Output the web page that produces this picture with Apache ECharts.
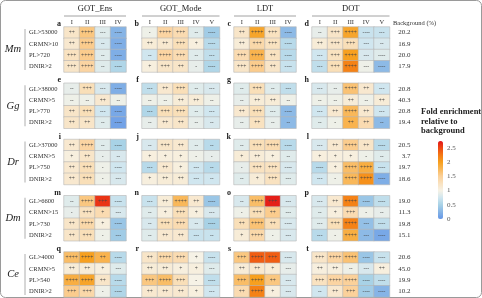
<!DOCTYPE html>
<html>
<head>
<meta charset="utf-8">
<script src="https://cdn.jsdelivr.net/npm/echarts@6/dist/echarts.min.js"></script>
<style>
  html, body { margin: 0; padding: 0; background: #fff; }
  #chart { width: 482px; height: 298px; }
</style>
</head>
<body>
<div id="chart"></div>
<script>
// species blocks, top to bottom
const species = ['Mm', 'Gg', 'Dr', 'Dm', 'Ce'];
const rowLabels = [
  ['GL>53000', 'CRMN>10', 'PL>720', 'DNIR>2'],
  ['GL>38000', 'CRMN>5', 'PL>770', 'DNIR>2'],
  ['GL>37000', 'CRMN>5', 'PL>750', 'DNIR>2'],
  ['GL>6600', 'CRMN>15', 'PL>730', 'DNIR>2'],
  ['GL>4000', 'CRMN>5', 'PL>540', 'DNIR>2']
];
const background = [
  ['20.2', '16.9', '20.0', '17.9'],
  ['20.8', '40.3', '20.8', '19.4'],
  ['20.5', '3.7', '19.7', '18.6'],
  ['19.0', '11.3', '19.8', '15.1'],
  ['20.6', '45.0', '19.9', '10.2']
];
const methods = ['GOT_Ens', 'GOT_Mode', 'LDT', 'DOT'];
const methodCols = [
  ['I', 'II', 'III', 'IV'],
  ['I', 'II', 'III', 'IV', 'V'],
  ['I', 'II', 'III', 'IV'],
  ['I', 'II', 'III', 'IV', 'V']
];
const panelLetters = ['abcd', 'efgh', 'ijkl', 'mnop', 'qrst'];

// fold enrichment, 20 rows (5 species x 4 rows)
const gotEnsFold = [
  [1.2, 1.6, 0.85, 0.25], [1.15, 1.55, 0.8, 0.2], [1.25, 1.55, 0.85, 0.2], [1.2, 1.45, 0.85, 0.55],
  [0.9, 1.3, 0.8, 0.2], [0.95, 0.95, 1.15, 0.95], [1.2, 1.3, 0.75, 0.15], [1.2, 1.2, 0.85, 0.1],
  [1.15, 1.45, 0.85, 0.5], [1.05, 1.2, 0.9, 0.8], [1.15, 1.3, 0.95, 0.75], [1.15, 1.3, 0.95, 0.8],
  [0.85, 1.6, 2.6, 0.7], [0.9, 1.25, 1.35, 0.8], [1.2, 1.4, 1.05, 0.4], [1.2, 1.3, 0.95, 0.45],
  [1.7, 2.0, 1.8, 0.6], [1.1, 1.1, 1.05, 0.85], [1.85, 1.95, 1.2, 0.6], [1.55, 1.4, 0.95, 0.55]
];
const gotModeFold = [
  [0.95, 1.45, 1.35, 0.85, 0.45], [1.1, 1.15, 1.3, 1.05, 0.6], [0.75, 1.45, 1.35, 0.85, 0.65], [1.05, 1.2, 1.2, 0.9, 0.55],
  [0.65, 1.15, 1.3, 0.85, 0.8], [0.95, 0.95, 1.1, 1.1, 0.95], [0.55, 1.3, 1.3, 0.85, 0.75], [0.9, 1.15, 1.2, 0.9, 0.8],
  [0.8, 1.2, 1.15, 0.85, 0.6], [1.05, 1.05, 1.05, 0.95, 0.9], [0.6, 1.15, 1.05, 0.75, 0.6], [1.05, 1.1, 1.1, 0.75, 0.75],
  [0.7, 1.1, 1.75, 1.15, 0.4], [0.85, 1.05, 1.3, 1.05, 0.8], [0.8, 1.3, 1.35, 0.8, 0.5], [0.85, 1.15, 1.15, 0.7, 0.7],
  [1.2, 1.4, 1.35, 1.0, 0.7], [1.1, 1.1, 1.05, 1.05, 0.85], [1.6, 1.7, 1.3, 1.0, 0.65], [1.15, 1.15, 1.15, 1.05, 0.75]
];
const ldtFold = [
  [1.2, 1.95, 1.25, 0.3], [1.1, 1.4, 1.25, 0.6], [1.35, 1.8, 1.25, 0.6], [1.2, 1.55, 1.2, 0.7],
  [0.85, 1.3, 0.85, 0.65], [0.9, 1.1, 1.1, 0.95], [1.15, 1.3, 0.85, 0.3], [0.9, 1.25, 0.9, 0.3],
  [0.85, 1.3, 1.35, 0.6], [1.1, 1.1, 1.05, 0.85], [0.9, 1.25, 1.25, 0.8], [0.85, 1.1, 1.25, 0.85],
  [0.8, 1.7, 2.7, 0.8], [0.95, 1.3, 1.55, 0.85], [1.3, 1.65, 1.3, 0.8], [1.1, 1.4, 0.95, 0.8],
  [1.6, 2.4, 2.4, 0.8], [1.1, 1.15, 1.1, 0.9], [1.7, 2.0, 1.6, 0.8], [1.35, 2.2, 1.05, 0.8]
];
const dotFold = [
  [0.9, 1.2, 1.95, 0.7, 0.7], [1.1, 1.2, 1.3, 0.75, 0.8], [0.75, 1.25, 2.0, 0.8, 0.85], [0.65, 1.3, 2.2, 0.95, 0.3],
  [0.8, 0.9, 1.65, 1.15, 0.75], [0.95, 0.95, 1.1, 0.95, 1.1], [0.75, 1.15, 1.75, 1.15, 0.75], [0.85, 0.95, 1.8, 1.35, 0.3],
  [0.8, 1.15, 1.55, 1.2, 0.6], [1.05, 1.05, 1.05, 0.95, 0.85], [0.6, 1.05, 1.7, 1.85, 0.7], [0.75, 0.95, 1.75, 2.1, 0.2],
  [0.8, 1.15, 2.2, 0.4, 0.65], [0.85, 1.05, 1.35, 0.95, 0.9], [0.85, 1.3, 2.2, 0.35, 0.65], [0.6, 0.95, 1.85, 0.3, 0.15],
  [1.2, 1.45, 1.65, 0.4, 0.7], [1.05, 1.05, 0.95, 0.8, 1.05], [1.25, 1.45, 1.5, 0.5, 0.65], [0.75, 1.15, 1.5, 0.45, 0.25]
];

// significance marks printed in the cells
const gotEnsSig = [
  ['++', '++++', '---', '----'], ['++', '++++', '--', '----'], ['+++', '++++', '--', '----'], ['+++', '++++', '--', '----'],
  ['--', '+++', '---', '----'], ['--', '--', '++', '--'], ['++', '+++', '---', '----'], ['++', '++', '--', '----'],
  ['++', '++++', '--', '----'], ['+', '++', '-', '--'], ['++', '+++', '-', '----'], ['++', '+++', '-', '---'],
  ['--', '++++', '+++', '----'], ['-', '+++', '+', '---'], ['++', '++++', '+', '----'], ['++', '+++', '-', '---'],
  ['++++', '++++', '++', '----'], ['++', '++', '+', '---'], ['++++', '++++', '++', '----'], ['+++', '+++', '-', '----']
];
const gotModeSig = [
  ['-', '++++', '+++', '--', '----'], ['++', '++', '+++', '+', '----'], ['--', '++++', '+++', '--', '---'], ['+', '+++', '++', '-', '----'],
  ['---', '++', '+++', '--', '---'], ['--', '--', '++', '++', '--'], ['---', '+++', '+++', '--', '---'], ['--', '++', '++', '--', '--'],
  ['--', '+++', '++', '--', '--'], ['+', '+', '+', '-', '-'], ['---', '++', '+', '---', '--'], ['+', '++', '++', '---', '--'],
  ['---', '++', '++++', '++', '----'], ['--', '+', '+++', '+', '---'], ['--', '+++', '+++', '--', '----'], ['--', '++', '++', '---', '--'],
  ['++', '++++', '+++', '+', '----'], ['++', '++', '+', '+', '---'], ['+++', '++++', '+++', '-', '----'], ['++', '++', '++', '+', '---']
];
const ldtSig = [
  ['++', '++++', '+++', '----'], ['++', '+++', '+++', '----'], ['+++', '++++', '++', '----'], ['+++', '++++', '++', '----'],
  ['--', '+++', '--', '---'], ['--', '++', '++', '--'], ['++', '+++', '---', '----'], ['--', '++', '--', '--'],
  ['--', '+++', '++++', '----'], ['+', '++', '+', '--'], ['-', '+++', '+++', '----'], ['--', '+', '+++', '---'],
  ['--', '++++', '+++', '---'], ['-', '+++', '++', '---'], ['++', '++++', '++', '----'], ['+', '++++', '-', '---'],
  ['+++', '++++', '+++', '----'], ['++', '++', '+', '---'], ['+++', '++++', '++', '---'], ['++', '++++', '+', '---']
];
const dotSig = [
  ['--', '+++', '++++', '----', '---'], ['++', '+++', '+++', '---', '--'], ['---', '+++', '++++', '---', '----'], ['---', '+++', '++++', '---', '----'],
  ['---', '--', '++++', '++', '---'], ['--', '--', '++', '--', '++'], ['---', '++', '++++', '++', '---'], ['--', '-', '++', '++', '--'],
  ['---', '++', '++++', '++', '----'], ['+', '+', '+', '-', '--'], ['----', '+', '++++', '++++', '----'], ['---', '-', '++++', '++++', '----'],
  ['---', '++', '++++', '----', '----'], ['--', '+', '+++', '-', '--'], ['---', '+++', '++++', '---', '----'], ['---', '-', '++++', '---', '----'],
  ['+++', '++++', '++++', '----', '----'], ['++', '++', '--', '---', '++'], ['+++', '++++', '++++', '----', '----'], ['--', '++', '+++', '----', '----']
];

const foldByMethod = [gotEnsFold, gotModeFold, ldtFold, dotFold];
const sigByMethod = [gotEnsSig, gotModeSig, ldtSig, dotSig];

const colorTicks = [0, 0.5, 1, 1.5, 2, 2.5];

// layout
const serif = '"Liberation Serif", "DejaVu Serif", serif';
const cellW = 15.5;
const rowH = 11.25;
const gridTop = 27;
const gridLefts = [64, 142, 234, 312];
const nRows = species.length * 5 - 1; // one empty row between species blocks

function yIndex(r) {
  return Math.floor(r / 4) * 5 + (r % 4);
}

const flatLabels = [], flatBg = [];
for (let i = 0; i < nRows; i++) { flatLabels.push(''); flatBg.push(''); }
species.forEach((s, si) => {
  for (let r = 0; r < 4; r++) {
    flatLabels[si * 5 + r] = rowLabels[si][r];
    flatBg[si * 5 + r] = background[si][r];
  }
});
const rowIds = flatLabels.map((_, i) => String(i));

const grid = [], xAxis = [], yAxis = [], series = [];
methods.forEach((m, mi) => {
  const nc = methodCols[mi].length;
  grid.push({ left: gridLefts[mi], top: gridTop, width: nc * cellW, height: nRows * rowH });
  xAxis.push({
    gridIndex: mi, type: 'category', position: 'top', data: methodCols[mi],
    axisLine: { show: false }, axisTick: { show: false },
    axisLabel: { margin: 1.5, fontSize: 6.5, fontFamily: serif, color: '#333' }
  });
  const y = {
    gridIndex: mi, type: 'category', inverse: true, data: rowIds,
    axisLine: { show: false }, axisTick: { show: false }, splitLine: { show: false },
    axisLabel: { show: false }
  };
  if (mi === 0) {
    y.axisLabel = { show: true, interval: 0, align: 'left', margin: 35, fontSize: 6.5, fontFamily: serif, color: '#333',
      formatter: (v, i) => flatLabels[i] };
  }
  if (mi === 3) {
    y.position = 'right';
    y.axisLabel = { show: true, interval: 0, align: 'right', margin: 21, fontSize: 7, fontFamily: serif, color: '#333',
      formatter: (v, i) => flatBg[i] };
  }
  yAxis.push(y);

  const data = [];
  foldByMethod[mi].forEach((row, r) => {
    row.forEach((v, c) => {
      data.push({ value: [c, yIndex(r), v], sym: sigByMethod[mi][r][c] });
    });
  });
  series.push({
    type: 'heatmap', xAxisIndex: mi, yAxisIndex: mi, data: data,
    itemStyle: { borderColor: '#b5b5b5', borderWidth: 0.6 },
    label: { show: true, fontSize: 5.5, fontFamily: serif, color: '#444', formatter: p => p.data.sym },
    emphasis: { disabled: true }
  });
});

// colour bar tick labels
grid.push({ left: 438, top: 141, width: 5, height: 78 });
xAxis.push({ gridIndex: 4, type: 'category', data: [''], show: false });
yAxis.push({
  gridIndex: 4, type: 'value', min: 0, max: 2.75, interval: 0.5, position: 'right',
  axisLine: { show: false }, axisTick: { show: false }, splitLine: { show: false },
  axisLabel: { margin: 4, fontSize: 7, fontFamily: serif, color: '#555', showMaxLabel: false,
    formatter: v => colorTicks.indexOf(v) >= 0 ? String(v) : '' }
});

const graphic = [];
graphic.push({ type: 'rect', shape: { x: 0.5, y: 0.5, width: 481, height: 297, r: 5 },
  style: { fill: 'none', stroke: '#9a9a9a', lineWidth: 1 }, silent: true });
methods.forEach((m, mi) => {
  const w = methodCols[mi].length * cellW;
  graphic.push({ type: 'text', x: gridLefts[mi] + w / 2, y: 9,
    style: { text: m, font: '8.5px ' + serif, fill: '#222', textAlign: 'center', textVerticalAlign: 'middle' } });
  graphic.push({ type: 'line', shape: { x1: gridLefts[mi], y1: 16, x2: gridLefts[mi] + w, y2: 16 },
    style: { stroke: '#8a8a8a', lineWidth: 0.8 } });
});
species.forEach((s, si) => {
  const top = gridTop + si * 5 * rowH;
  graphic.push({ type: 'text', x: 13, y: top + 2 * rowH,
    style: { text: s, font: 'italic 10.5px ' + serif, fill: '#222', textAlign: 'center', textVerticalAlign: 'middle' } });
  graphic.push({ type: 'line', shape: { x1: 25, y1: top + 2, x2: 25, y2: top + 4 * rowH - 2 },
    style: { stroke: '#999', lineWidth: 0.8 } });
  for (let mi = 0; mi < 4; mi++) {
    graphic.push({ type: 'text', x: gridLefts[mi] - 3, y: top - 3,
      style: { text: panelLetters[si][mi], font: 'bold 8px ' + serif, fill: '#222', textAlign: 'right', textVerticalAlign: 'middle' } });
  }
});
graphic.push({ type: 'text', x: 393, y: 23,
  style: { text: 'Background (%)', font: '6.5px ' + serif, fill: '#333', textAlign: 'left', textVerticalAlign: 'middle' } });
['Fold enrichment', 'relative to', 'background'].forEach((t, i) => {
  graphic.push({ type: 'text', x: 421, y: 112 + i * 9.5,
    style: { text: t, font: 'bold 8.5px ' + serif, fill: '#222', textAlign: 'left', textVerticalAlign: 'middle' } });
});

const chart = echarts.init(document.getElementById('chart'), null, { renderer: 'canvas' });
chart.setOption({
  animation: false,
  backgroundColor: '#fff',
  grid: grid,
  xAxis: xAxis,
  yAxis: yAxis,
  visualMap: {
    type: 'continuous', min: 0, max: 2.75, seriesIndex: [0, 1, 2, 3],
    calculable: false, left: 438, top: 141, itemWidth: 5, itemHeight: 78, padding: 0,
    text: null, showLabel: false,
    inRange: {
      color: ['#6496e8', '#86b4e6', '#a8d2e6', '#d0e6ef', '#f6f2e6', '#f9e2c0',
              '#fbd19a', '#f9b85a', '#f7a01f', '#f47a14', '#ee4a12', '#e3141a']
    }
  },
  series: series,
  graphic: graphic
});
</script>
</body>
</html>
